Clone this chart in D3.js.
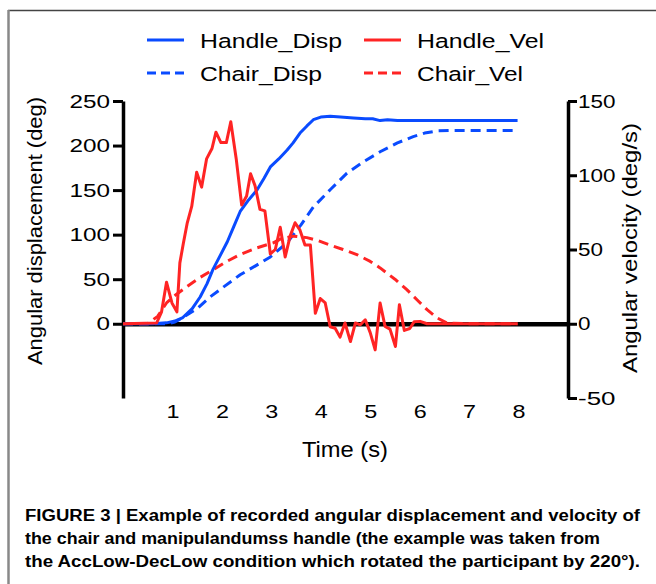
<!DOCTYPE html>
<html>
<head>
<meta charset="utf-8">
<script src="https://cdn.jsdelivr.net/npm/d3@7"></script>
<style>
  body { margin: 0; background: #fff; }
  svg { display: block; }
  text { font-family: "Liberation Sans", Arial, Helvetica, sans-serif; fill: #000; }
</style>
</head>
<body>
<svg id="chart" width="656" height="584"></svg>
<script>
// ---- data ----
const timeTicks = [1, 2, 3, 4, 5, 6, 7, 8];
const dispTicks = [0, 50, 100, 150, 200, 250];
const velTicks = [-50, 0, 50, 100, 150];

const handleDispTime = [0, 0.6, 0.88, 1.05, 1.21, 1.4, 1.56, 1.7, 1.82, 1.97, 2.11, 2.24, 2.37, 2.54, 2.71, 2.85, 2.98, 3.15, 3.32, 3.44, 3.58, 3.72, 3.85, 4.0, 4.19, 4.4, 4.66, 4.9, 5.05, 5.2, 5.35, 5.55, 6.0, 7.0, 7.98];
const handleDisp = [0, 0, 1, 3, 7, 17, 30, 45, 61, 77, 92, 109, 126, 139, 150, 163, 176, 185, 195, 203, 214, 222, 229, 232, 233, 232, 231, 230, 230, 228, 229, 228, 228, 228, 228];

const chairDispTime = [0, 0.9, 1.05, 1.21, 1.5, 1.76, 2.05, 2.37, 2.68, 2.98, 3.32, 3.6, 3.85, 4.2, 4.53, 4.87, 5.2, 5.55, 5.87, 6.1, 6.36, 6.7, 7.98];
const chairDisp = [0, 0, 2, 7, 17, 30, 42, 55, 65, 75, 91, 111, 131, 151, 169, 182, 193, 203, 210, 214, 216.5, 217, 217];

const handleVelTime = [0, 0.68, 0.78, 0.88, 0.99, 1.09, 1.15, 1.22, 1.30, 1.39, 1.49, 1.59, 1.69, 1.80, 1.88, 1.98, 2.09, 2.18, 2.29, 2.40, 2.50, 2.58, 2.67, 2.77, 2.87, 2.98, 3.08, 3.18, 3.28, 3.38, 3.48, 3.58, 3.68, 3.79, 3.89, 3.99, 4.09, 4.19, 4.29, 4.39, 4.49, 4.60, 4.70, 4.80, 4.90, 5.00, 5.10, 5.20, 5.30, 5.40, 5.51, 5.59, 5.69, 5.80, 5.89, 6.01, 6.15, 7.98];
const handleVel = [0, 0.5, 8, 28, 14, 8, 41, 54, 68, 79, 102, 92, 111, 118, 129, 122, 122, 136, 111, 80, 86, 101, 93, 77, 76, 47, 50, 65, 45, 59, 68, 63, 53, 53, 7, 17, 14, -2, -3, -9, 0.5, -12, 0.5, -0.7, 2.7, -6, -17.6, 14, -1.8, -3.6, -15.3, 12.8, -4.5, -3.2, 1.4, 1.6, 0, 0];

const chairVelTime = [0, 0.5, 0.7, 0.88, 1.05, 1.29, 1.55, 1.83, 2.1, 2.37, 2.7, 3.04, 3.18, 3.45, 3.72, 3.95, 4.19, 4.45, 4.73, 5.0, 5.2, 5.5, 5.74, 5.95, 6.15, 6.35, 6.55, 7.0, 7.98];
const chairVel = [0, 0, 5, 14, 19, 25, 31, 36.5, 42, 46.6, 51, 54.5, 57, 59, 58, 56, 53, 50, 46.6, 42, 37.6, 30, 23, 16, 9.5, 4, 0.5, 0, 0];

const captionLines = [
  "FIGURE 3 | Example of recorded angular displacement and velocity of",
  "the chair and manipulandumss handle (the example was taken from",
  "the AccLow-DecLow condition which rotated the participant by 220°)."
];

const blue = "#0a4bff";
const red = "#ff2424";

const svg = d3.select("#chart");
const margin = {top: 101, right: 88, bottom: 186, left: 123};
const width = 656, height = 584;

const x = d3.scaleLinear().domain([0, 9]).range([margin.left, width - margin.right]);
const yVel = d3.scaleLinear().domain([-50, 150]).range([height - margin.bottom, margin.top]);
// left axis shares the same bottom as the velocity axis
const dispMin = velTicks[0] * d3.max(dispTicks) / d3.max(velTicks);
const yDisp = d3.scaleLinear().domain([dispMin, 250]).range([height - margin.bottom, margin.top]);

// frame
svg.append("line").attr("x1", 8).attr("x2", 656).attr("y1", 10.5).attr("y2", 10.5)
  .attr("stroke", "#444").attr("stroke-width", 1.5);
svg.append("line").attr("x1", 8.5).attr("x2", 8.5).attr("y1", 10).attr("y2", 584)
  .attr("stroke", "#888").attr("stroke-width", 2.5);

function stretch(sel, perChar) {
  sel.attr("textLength", function() { return this.textContent.length * perChar; })
    .attr("lengthAdjust", "spacingAndGlyphs");
}

// left axis
const gLeft = svg.append("g")
  .attr("transform", `translate(${margin.left},0)`)
  .call(d3.axisLeft(yDisp).tickValues(dispTicks).tickSize(10).tickSizeOuter(0).tickPadding(3));
gLeft.selectAll("text").style("font-size", "19px").call(stretch, 13.5);

// right axis (plain hyphen for the negative label, as in the figure)
const gRight = svg.append("g")
  .attr("transform", `translate(${width - margin.right},0)`)
  .call(d3.axisRight(yVel).tickValues(velTicks).tickFormat(d => String(d)).tickSize(9).tickSizeOuter(0).tickPadding(1));
gRight.selectAll("text").style("font-size", "19px").call(stretch, 12.5);

// zero line
svg.append("g")
  .attr("transform", `translate(0,${yDisp(0)})`)
  .call(d3.axisBottom(x).tickValues([]).tickSizeOuter(0))
  .select(".domain").attr("stroke-width", 4.5);

// time labels
const gBottom = svg.append("g")
  .attr("transform", `translate(0,${height - margin.bottom})`)
  .call(d3.axisBottom(x).tickValues(timeTicks).tickSize(0).tickPadding(7));
gBottom.select(".domain").remove();
gBottom.selectAll("text").style("font-size", "19px").call(stretch, 13);

[gLeft, gRight].forEach(g => {
  g.select(".domain").attr("stroke-width", 3.5);
  g.selectAll(".tick line").attr("stroke-width", 3);
  g.attr("font-family", null);
});
gBottom.attr("font-family", null);

// series
const series = [
  {t: chairDispTime, v: chairDisp, y: yDisp, color: blue, dash: "10,6"},
  {t: chairVelTime, v: chairVel, y: yVel, color: red, dash: "10,6"},
  {t: handleDispTime, v: handleDisp, y: yDisp, color: blue, dash: null},
  {t: handleVelTime, v: handleVel, y: yVel, color: red, dash: null}
];
series.forEach(s => {
  const line = d3.line().x((d, i) => x(s.t[i])).y(d => s.y(d));
  svg.append("path")
    .datum(s.v)
    .attr("fill", "none")
    .attr("stroke", s.color)
    .attr("stroke-width", 3)
    .attr("stroke-linejoin", "round")
    .attr("stroke-dasharray", s.dash)
    .attr("d", line);
});

// legend
const legend = [
  {name: "Handle_Disp", color: blue, dash: null, x: 147, y: 40, w: 142},
  {name: "Handle_Vel", color: red, dash: null, x: 364, y: 40, w: 127},
  {name: "Chair_Disp", color: blue, dash: "9,5", x: 147, y: 73, w: 122},
  {name: "Chair_Vel", color: red, dash: "9,5", x: 364, y: 73, w: 106}
];
legend.forEach(l => {
  svg.append("line")
    .attr("x1", l.x).attr("x2", l.x + 37).attr("y1", l.y).attr("y2", l.y)
    .attr("stroke", l.color).attr("stroke-width", 3).attr("stroke-dasharray", l.dash);
  svg.append("text")
    .attr("x", l.x + 53).attr("y", l.y + 7.5)
    .style("font-size", "20.5px")
    .attr("textLength", l.w).attr("lengthAdjust", "spacingAndGlyphs")
    .text(l.name);
});

// axis titles
svg.append("text")
  .attr("transform", "translate(42,231) rotate(-90)")
  .attr("text-anchor", "middle")
  .style("font-size", "20px")
  .attr("textLength", 268).attr("lengthAdjust", "spacingAndGlyphs")
  .text("Angular displacement (deg)");
svg.append("text")
  .attr("transform", "translate(637,248) rotate(-90)")
  .attr("text-anchor", "middle")
  .style("font-size", "20.5px")
  .attr("textLength", 250).attr("lengthAdjust", "spacingAndGlyphs")
  .text("Angular velocity (deg/s)");
svg.append("text")
  .attr("x", 345).attr("y", 457)
  .attr("text-anchor", "middle")
  .style("font-size", "22px")
  .attr("textLength", 86).attr("lengthAdjust", "spacingAndGlyphs")
  .text("Time (s)");

// caption
const captionEnds = [640, 600, 640];
captionLines.forEach((c, i) => {
  svg.append("text")
    .attr("x", 25).attr("y", 521 + i * 23)
    .style("font-family", "'Liberation Sans Narrow', 'Liberation Sans', Arial, sans-serif")
    .style("font-weight", "bold")
    .style("font-size", "16px")
    .attr("textLength", captionEnds[i] - 25).attr("lengthAdjust", "spacingAndGlyphs")
    .text(c);
});
</script>
</body>
</html>
